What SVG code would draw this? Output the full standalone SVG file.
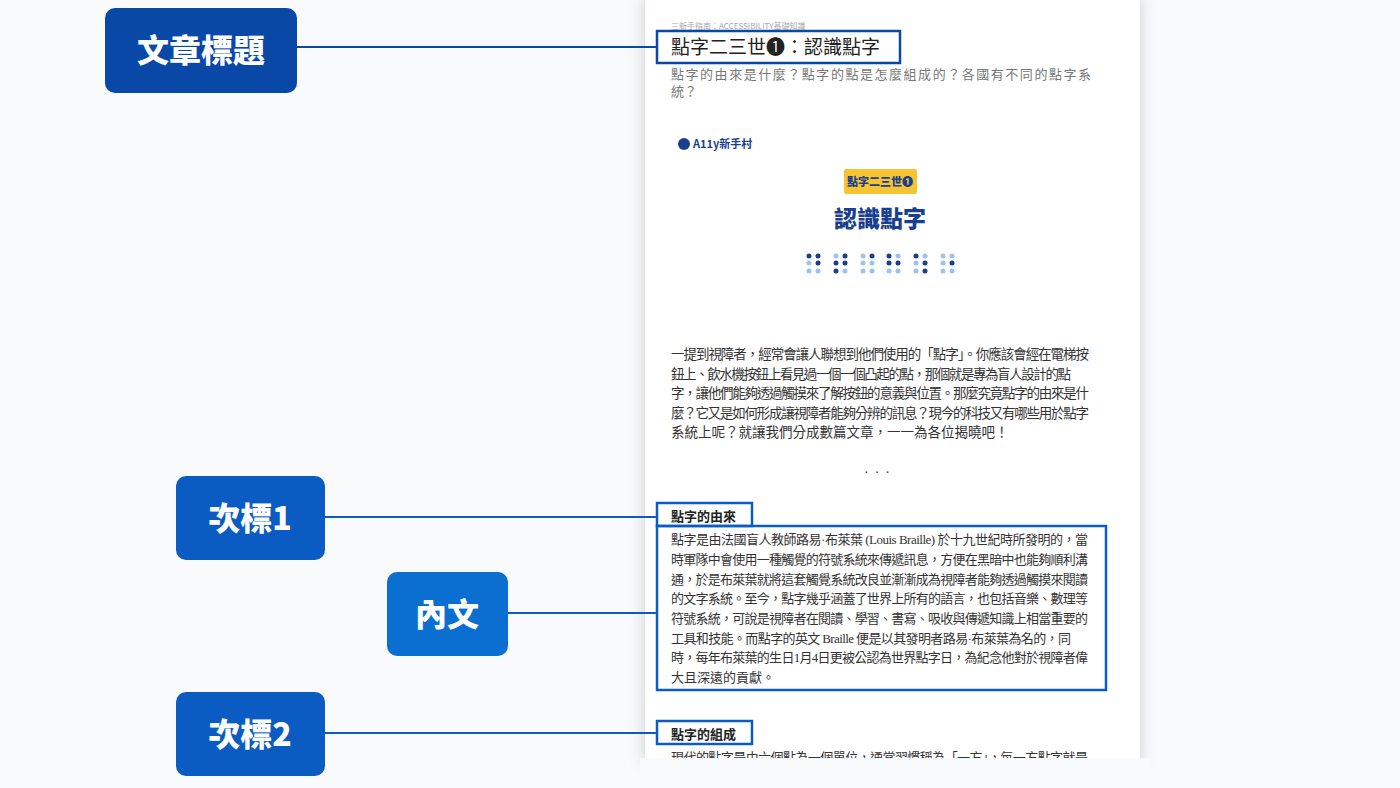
<svg xmlns="http://www.w3.org/2000/svg" width="1400" height="788" viewBox="0 0 1400 788">
<style>
.lbl{font-family:"Noto Sans CJK TC","Noto Sans CJK SC",sans-serif;font-weight:900;font-size:32px;fill:#fff;text-anchor:middle}
.t{font-family:"Liberation Serif","Noto Sans CJK TC",serif;font-size:13px;fill:#333}
.s{font-family:"Noto Sans CJK TC",sans-serif}
.hl{fill:none;stroke-width:2.5}
.con{stroke-width:2;fill:none}
.d{fill:#1a3f8f}.l{fill:#9cc3e8}
</style>
<defs><filter id="sh" x="-10%" y="-10%" width="120%" height="120%"><feDropShadow dx="0" dy="6" stdDeviation="8" flood-color="#000" flood-opacity="0.18"/></filter></defs>
<rect width="1400" height="788" fill="#f9fafb"/>
<g id="page">
<rect x="645" y="-10" width="495" height="768" fill="#fff" filter="url(#sh)"/>
<text x="671" y="29" font-family="Noto Sans CJK TC,sans-serif" font-size="8" fill="#aaa">三新手指南：ACCESSIBILITY基礎知識</text>
<text x="671" y="54" class="s" font-size="19" fill="#222">點字二三世➊：認識點字</text>
<text x="671" y="79" class="s" font-size="13" fill="#777" textLength="420">點字的由來是什麼？點字的點是怎麼組成的？各國有不同的點字系</text>
<text x="671" y="96" class="s" font-size="13" fill="#777">統？</text>
<circle cx="684" cy="144" r="6" fill="#1a3f8f"/>
<text x="693" y="148" font-family="Noto Sans CJK TC,sans-serif" font-weight="700" font-size="11" fill="#1a3f8f">A11y新手村</text>
<rect x="844" y="169" width="73" height="25" rx="2" fill="#f7c431"/>
<text x="880" y="186" text-anchor="middle" font-family="Noto Sans CJK TC,sans-serif" font-weight="900" font-size="11" fill="#1a3f8f">點字二三世➊</text>
<text x="880" y="227" text-anchor="middle" font-family="Noto Sans CJK TC,sans-serif" font-weight="900" font-size="23" fill="#1a3f8f">認識點字</text>
<g id="braille">
<circle class="d" cx="809" cy="256" r="2.5"/><circle class="d" cx="818" cy="256" r="2.5"/><circle class="l" cx="809" cy="263" r="2.5"/><circle class="d" cx="818" cy="263" r="2.5"/><circle class="l" cx="809" cy="271" r="2.5"/><circle class="l" cx="818" cy="271" r="2.5"/>
<circle class="l" cx="836" cy="256" r="2.5"/><circle class="d" cx="845" cy="256" r="2.5"/><circle class="d" cx="836" cy="263" r="2.5"/><circle class="d" cx="845" cy="263" r="2.5"/><circle class="d" cx="836" cy="271" r="2.5"/><circle class="l" cx="845" cy="271" r="2.5"/>
<circle class="l" cx="863" cy="256" r="2.5"/><circle class="d" cx="872" cy="256" r="2.5"/><circle class="l" cx="863" cy="263" r="2.5"/><circle class="l" cx="872" cy="263" r="2.5"/><circle class="l" cx="863" cy="271" r="2.5"/><circle class="l" cx="872" cy="271" r="2.5"/>
<circle class="d" cx="889" cy="256" r="2.5"/><circle class="l" cx="898" cy="256" r="2.5"/><circle class="d" cx="889" cy="263" r="2.5"/><circle class="d" cx="898" cy="263" r="2.5"/><circle class="l" cx="889" cy="271" r="2.5"/><circle class="l" cx="898" cy="271" r="2.5"/>
<circle class="d" cx="916" cy="256" r="2.5"/><circle class="l" cx="925" cy="256" r="2.5"/><circle class="l" cx="916" cy="263" r="2.5"/><circle class="d" cx="925" cy="263" r="2.5"/><circle class="l" cx="916" cy="271" r="2.5"/><circle class="d" cx="925" cy="271" r="2.5"/>
<circle class="l" cx="943" cy="256" r="2.5"/><circle class="l" cx="952" cy="256" r="2.5"/><circle class="l" cx="943" cy="263" r="2.5"/><circle class="d" cx="952" cy="263" r="2.5"/><circle class="l" cx="943" cy="271" r="2.5"/><circle class="l" cx="952" cy="271" r="2.5"/>
</g>
<g class="s" font-size="13.5" fill="#333">
<text x="671" y="359" textLength="418">一提到視障者，經常會讓人聯想到他們使用的「點字」。你應該會經在電梯按</text>
<text x="671" y="379" textLength="400">鈕上、飲水機按鈕上看見過一個一個凸起的點，那個就是專為盲人設計的點</text>
<text x="671" y="398" textLength="418">字，讓他們能夠透過觸摸來了解按鈕的意義與位置。那麼究竟點字的由來是什</text>
<text x="671" y="418" textLength="418">麼？它又是如何形成讓視障者能夠分辨的訊息？現今的科技又有哪些用於點字</text>
<text x="671" y="437">系統上呢？就讓我們分成數篇文章，一一為各位揭曉吧！</text>
</g>
<text x="880" y="476" text-anchor="middle" font-family="Liberation Sans,sans-serif" font-size="14" fill="#333" letter-spacing="6">···</text>
<text x="671" y="521" class="s" font-size="13" font-weight="700" fill="#222">點字的由來</text>
<g class="t">
<text x="671" y="544" textLength="417">點字是由法國盲人教師路易·布萊葉 (Louis Braille) 於十九世紀時所發明的，當</text>
<text x="671" y="564" textLength="417">時軍隊中會使用一種觸覺的符號系統來傳遞訊息，方便在黑暗中也能夠順利溝</text>
<text x="671" y="584" textLength="417">通，於是布萊葉就將這套觸覺系統改良並漸漸成為視障者能夠透過觸摸來閱讀</text>
<text x="671" y="603" textLength="417">的文字系統。至今，點字幾乎涵蓋了世界上所有的語言，也包括音樂、數理等</text>
<text x="671" y="623" textLength="417">符號系統，可說是視障者在閱讀、學習、書寫、吸收與傳遞知識上相當重要的</text>
<text x="671" y="643" textLength="400">工具和技能。而點字的英文 Braille 便是以其發明者路易·布萊葉為名的，同</text>
<text x="671" y="662" textLength="417">時，每年布萊葉的生日1月4日更被公認為世界點字日，為紀念他對於視障者偉</text>
<text x="671" y="682">大且深遠的貢獻。</text>
</g>
<text x="671" y="739" class="s" font-size="13" font-weight="700" fill="#222">點字的組成</text>
<text x="671" y="762" class="t" textLength="417">現代的點字是由六個點為一個單位，通常習慣稱為「一方」，每一方點字就是</text>
<rect x="640" y="758" width="510" height="30" fill="#f9fafb"/>
</g>
<g id="connectors">
<line class="con" x1="297" y1="47" x2="657" y2="47" stroke="#0a48a8"/>
<line class="con" x1="325" y1="517" x2="657" y2="517" stroke="#0a5cc2"/>
<line class="con" x1="508" y1="613" x2="657" y2="613" stroke="#0a5cc2"/>
<line class="con" x1="325" y1="733" x2="657" y2="733" stroke="#0a5cc2"/>
</g>
<g id="highlights">
<rect class="hl" x="657" y="31" width="243" height="32" stroke="#0a48a8"/>
<rect class="hl" x="657" y="503" width="95" height="23" stroke="#0a5cc2"/>
<rect class="hl" x="657" y="526" width="449" height="164" stroke="#0a5cc2"/>
<rect class="hl" x="657" y="721" width="95" height="23" stroke="#0a5cc2"/>
</g>
<g id="n-title"><rect x="105" y="8" width="192" height="85" rx="10" fill="#0a48a8"/><text class="lbl" x="201" y="62">文章標題</text></g>
<g id="n-sub1"><rect x="176" y="476" width="149" height="84" rx="10" fill="#0a5cc2"/><text class="lbl" x="250" y="530">次標1</text></g>
<g id="n-body"><rect x="387" y="572" width="121" height="84" rx="10" fill="#0b6fd1"/><text class="lbl" x="447" y="626">內文</text></g>
<g id="n-sub2"><rect x="176" y="692" width="149" height="84" rx="10" fill="#0a5cc2"/><text class="lbl" x="250" y="746">次標2</text></g>
</svg>
